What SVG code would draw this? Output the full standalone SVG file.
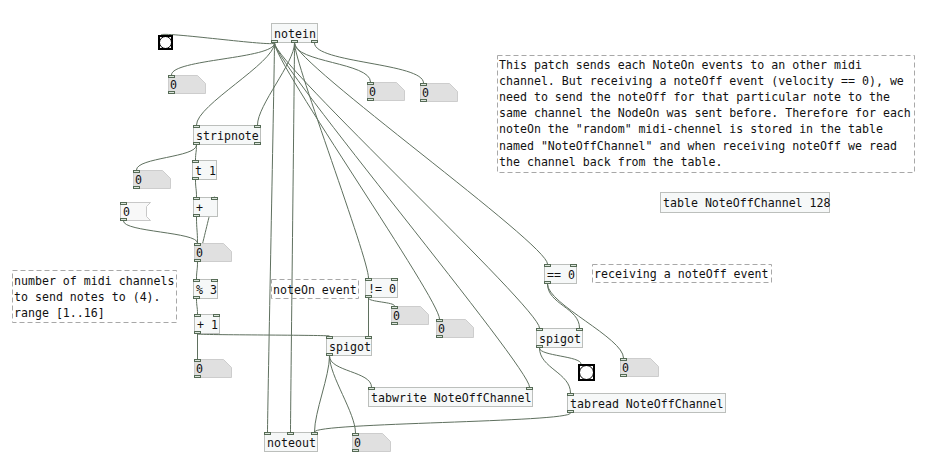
<svg xmlns="http://www.w3.org/2000/svg" width="925" height="467" viewBox="0 0 925 467">
<style>
text{font-family:"DejaVu Sans Mono","Liberation Mono",monospace;font-size:11.6px;fill:#111}
.o{fill:#f6f8f8;stroke:#bcbfbc;stroke-width:1}
.io{fill:#dde6dd;stroke:#566b56;stroke-width:1}
.n{fill:#e0e0e0;stroke:#cdcdcd;stroke-width:1}
.m{fill:#f8f8f8;stroke:#c8c8c8;stroke-width:1}
.c{fill:none;stroke:#a8a8a8;stroke-width:1;stroke-dasharray:5 3}
.w path{fill:none;stroke:#5f705f;stroke-width:1}
.b{fill:#fff;stroke:#000;stroke-width:2}
.bc{fill:none;stroke:#000;stroke-width:1}
</style>
<rect width="925" height="467" fill="#fff"/>
<g id="connectors" class="w">
<path d="M274.5,43 C274.5,47 161,31 161,35"/>
<path d="M274.5,43 C274.5,59 171.5,59 171.5,75"/>
<path d="M274.5,43 C274.5,63 196.5,105 196.5,125"/>
<path d="M294.5,43 C294.5,63 257.5,105 257.5,125"/>
<path d="M294.5,43 C294.5,62.5 370.5,62.5 370.5,82"/>
<path d="M314.5,43 C314.5,63 423.5,63 423.5,83"/>
<path d="M274.5,43 C274.5,63 267.5,412 267.5,432"/>
<path d="M294.5,43 C294.5,63 290.5,412 290.5,432"/>
<path d="M294.5,43 C294.5,63 368.5,258 368.5,278"/>
<path d="M274.5,43 C274.5,63 439.5,299 439.5,319"/>
<path d="M274.5,43 C274.5,63 529.5,367 529.5,387"/>
<path d="M274.5,43 C274.5,63 539.5,308 539.5,328"/>
<path d="M294.5,43 C294.5,63 547.5,244 547.5,264"/>
<path d="M196.5,145 C196.5,157.5 136.5,157.5 136.5,170"/>
<path d="M196.5,145 C196.5,152.5 195.5,152.5 195.5,160"/>
<path d="M195.5,180 C195.5,188.5 196.5,188.5 196.5,197"/>
<path d="M196.5,217 C196.5,230 197.5,230 197.5,243"/>
<path d="M197.5,262 C197.5,267 214.5,192 214.5,197"/>
<path d="M123.5,221 C123.5,232 197.5,232 197.5,243"/>
<path d="M197.5,262 C197.5,270.5 196.5,270.5 196.5,279"/>
<path d="M196.5,299 C196.5,306.5 197.5,306.5 197.5,314"/>
<path d="M197.5,334 L197.5,359"/>
<path d="M197.5,334 C197.5,335 329.5,335 329.5,336"/>
<path d="M368.5,298 L368.5,336"/>
<path d="M368.5,298 C368.5,302 394.5,302 394.5,306"/>
<path d="M329.5,356 C329.5,376 314.5,412 314.5,432"/>
<path d="M329.5,356 C329.5,371.5 371.5,371.5 371.5,387"/>
<path d="M329.5,356 C329.5,376 355.5,413 355.5,433"/>
<path d="M547.5,284 C547.5,304 579.5,308 579.5,328"/>
<path d="M547.5,284 C547.5,304 623.5,338 623.5,358"/>
<path d="M539.5,348 C539.5,368 570.5,373 570.5,393"/>
<path d="M539.5,348 C539.5,356 581,356 581,364"/>
<path d="M570.5,413 C570.5,422.5 314.5,422.5 314.5,432"/>
</g>
<g id="notein"><rect class="o" x="271.5" y="23.5" width="46" height="19"/><text x="274" y="37.5">notein</text><rect class="io" x="271.5" y="40.5" width="6" height="2"/><rect class="io" x="291.5" y="40.5" width="6" height="2"/><rect class="io" x="311.5" y="40.5" width="6" height="2"/></g>
<g id="bng1"><rect class="b" x="159" y="36" width="13" height="13"/><circle class="bc" cx="165.5" cy="42.5" r="6"/></g>
<g id="num1"><path class="n" d="M168.5,75.5 H197.5 L205.5,83.5 V93.5 H168.5 Z"/><text x="170" y="89">0</text><rect class="io" x="168.5" y="75.5" width="6" height="2"/><rect class="io" x="168.5" y="91.5" width="6" height="2"/></g>
<g id="num2"><path class="n" d="M367.5,82.5 H396.5 L404.5,90.5 V100.5 H367.5 Z"/><text x="369" y="96">0</text><rect class="io" x="367.5" y="82.5" width="6" height="2"/><rect class="io" x="367.5" y="98.5" width="6" height="2"/></g>
<g id="num3"><path class="n" d="M420.5,83.5 H449.5 L457.5,91.5 V101.5 H420.5 Z"/><text x="422" y="97">0</text><rect class="io" x="420.5" y="83.5" width="6" height="2"/><rect class="io" x="420.5" y="99.5" width="6" height="2"/></g>
<g id="stripnote"><rect class="o" x="193.5" y="125.5" width="67" height="19"/><text x="196" y="139.5">stripnote</text><rect class="io" x="193.5" y="125.5" width="6" height="2"/><rect class="io" x="254.5" y="125.5" width="6" height="2"/><rect class="io" x="193.5" y="142.5" width="6" height="2"/><rect class="io" x="254.5" y="142.5" width="6" height="2"/></g>
<g id="num4"><path class="n" d="M133.5,170.5 H162.5 L170.5,178.5 V188.5 H133.5 Z"/><text x="135" y="184">0</text><rect class="io" x="133.5" y="170.5" width="6" height="2"/><rect class="io" x="133.5" y="186.5" width="6" height="2"/></g>
<g id="t1"><rect class="o" x="192.5" y="160.5" width="24" height="19"/><text x="195" y="174.5">t 1</text><rect class="io" x="192.5" y="160.5" width="6" height="2"/><rect class="io" x="192.5" y="177.5" width="6" height="2"/></g>
<g id="plus"><rect class="o" x="193.5" y="197.5" width="24" height="19"/><text x="196" y="211.5">+</text><rect class="io" x="193.5" y="197.5" width="6" height="2"/><rect class="io" x="211.5" y="197.5" width="6" height="2"/><rect class="io" x="193.5" y="214.5" width="6" height="2"/></g>
<g id="msg0"><path class="m" d="M120.5,202.5 H150.5 L146.5,206.5 V216.5 L150.5,220.5 H120.5 Z"/><text x="123" y="216">0</text><rect class="io" x="120.5" y="202.5" width="6" height="2"/><rect class="io" x="120.5" y="218.5" width="6" height="2"/></g>
<g id="num5"><path class="n" d="M194.5,243.5 H223.5 L231.5,251.5 V261.5 H194.5 Z"/><text x="196" y="257">0</text><rect class="io" x="194.5" y="243.5" width="6" height="2"/><rect class="io" x="194.5" y="259.5" width="6" height="2"/></g>
<g id="mod3"><rect class="o" x="193.5" y="279.5" width="24" height="19"/><text x="196" y="293.5">% 3</text><rect class="io" x="193.5" y="279.5" width="6" height="2"/><rect class="io" x="211.5" y="279.5" width="6" height="2"/><rect class="io" x="193.5" y="296.5" width="6" height="2"/></g>
<g id="plus1"><rect class="o" x="194.5" y="314.5" width="25" height="19"/><text x="197" y="328.5">+ 1</text><rect class="io" x="194.5" y="314.5" width="6" height="2"/><rect class="io" x="213.5" y="314.5" width="6" height="2"/><rect class="io" x="194.5" y="331.5" width="6" height="2"/></g>
<g id="num6"><path class="n" d="M194.5,359.5 H223.5 L231.5,367.5 V377.5 H194.5 Z"/><text x="196" y="373">0</text><rect class="io" x="194.5" y="359.5" width="6" height="2"/><rect class="io" x="194.5" y="375.5" width="6" height="2"/></g>
<g id="comment-channels"><rect class="c" x="12.5" y="270.5" width="164" height="52"/><text x="14" y="285">number of midi channels</text><text x="14" y="301">to send notes to (4).</text><text x="14" y="317">range [1..16]</text></g>
<g id="comment-noteon"><rect class="c" x="271.5" y="279.5" width="87" height="19"/><text x="273" y="293.5">noteOn event</text></g>
<g id="neq0"><rect class="o" x="365.5" y="278.5" width="32" height="19"/><text x="368" y="292.5">!= 0</text><rect class="io" x="365.5" y="278.5" width="6" height="2"/><rect class="io" x="391.5" y="278.5" width="6" height="2"/><rect class="io" x="365.5" y="295.5" width="6" height="2"/></g>
<g id="num7"><path class="n" d="M391.5,306.5 H420.5 L428.5,314.5 V324.5 H391.5 Z"/><text x="393" y="320">0</text><rect class="io" x="391.5" y="306.5" width="6" height="2"/><rect class="io" x="391.5" y="322.5" width="6" height="2"/></g>
<g id="num8"><path class="n" d="M436.5,319.5 H465.5 L473.5,327.5 V337.5 H436.5 Z"/><text x="438" y="333">0</text><rect class="io" x="436.5" y="319.5" width="6" height="2"/><rect class="io" x="436.5" y="335.5" width="6" height="2"/></g>
<g id="spigot1"><rect class="o" x="326.5" y="336.5" width="45" height="19"/><text x="329" y="350.5">spigot</text><rect class="io" x="326.5" y="336.5" width="6" height="2"/><rect class="io" x="365.5" y="336.5" width="6" height="2"/><rect class="io" x="326.5" y="353.5" width="6" height="2"/></g>
<g id="tabwrite"><rect class="o" x="368.5" y="387.5" width="164" height="19"/><text x="371" y="401.5">tabwrite NoteOffChannel</text><rect class="io" x="368.5" y="387.5" width="6" height="2"/><rect class="io" x="526.5" y="387.5" width="6" height="2"/></g>
<g id="noteout"><rect class="o" x="264.5" y="432.5" width="53" height="19"/><text x="267" y="446.5">noteout</text><rect class="io" x="264.5" y="432.5" width="6" height="2"/><rect class="io" x="287.5" y="432.5" width="6" height="2"/><rect class="io" x="311.5" y="432.5" width="6" height="2"/></g>
<g id="num9"><path class="n" d="M352.5,433.5 H382.5 L390.5,441.5 V451.5 H352.5 Z"/><text x="354" y="447">0</text><rect class="io" x="352.5" y="433.5" width="6" height="2"/><rect class="io" x="352.5" y="449.5" width="6" height="2"/></g>
<g id="comment-main"><rect class="c" x="497.5" y="55.5" width="417" height="117"/>
<text x="499" y="68.5">This patch sends each NoteOn events to an other midi</text>
<text x="499" y="84.7">channel. But receiving a noteOff event (velocity == 0), we</text>
<text x="499" y="100.9">need to send the noteOff for that particular note to the</text>
<text x="499" y="117.1">same channel the NodeOn was sent before. Therefore for each</text>
<text x="499" y="133.3">noteOn the "random" midi-chennel is stored in the table</text>
<text x="499" y="149.5">named "NoteOffChannel" and when receiving noteOff we read</text>
<text x="499" y="165.7">the channel back from the table.</text></g>
<g id="table"><rect class="o" x="660.5" y="192.5" width="169" height="20"/><text x="663" y="207">table NoteOffChannel 128</text></g>
<g id="eq0"><rect class="o" x="544.5" y="264.5" width="32" height="19"/><text x="547" y="278.5">== 0</text><rect class="io" x="544.5" y="264.5" width="6" height="2"/><rect class="io" x="570.5" y="264.5" width="6" height="2"/><rect class="io" x="544.5" y="281.5" width="6" height="2"/></g>
<g id="comment-noteoff"><rect class="c" x="592.5" y="264.5" width="179" height="18"/><text x="594" y="278">receiving a noteOff event</text></g>
<g id="spigot2"><rect class="o" x="536.5" y="328.5" width="46" height="19"/><text x="539" y="342.5">spigot</text><rect class="io" x="536.5" y="328.5" width="6" height="2"/><rect class="io" x="576.5" y="328.5" width="6" height="2"/><rect class="io" x="536.5" y="345.5" width="6" height="2"/></g>
<g id="bng2"><rect class="b" x="579" y="365" width="15" height="15"/><circle class="bc" cx="586.5" cy="372.5" r="7"/></g>
<g id="num10"><path class="n" d="M620.5,358.5 H650.5 L658.5,366.5 V376.5 H620.5 Z"/><text x="622" y="372">0</text><rect class="io" x="620.5" y="358.5" width="6" height="2"/><rect class="io" x="620.5" y="374.5" width="6" height="2"/></g>
<g id="tabread"><rect class="o" x="567.5" y="393.5" width="158" height="19"/><text x="570" y="407.5">tabread NoteOffChannel</text><rect class="io" x="567.5" y="393.5" width="6" height="2"/><rect class="io" x="567.5" y="410.5" width="6" height="2"/></g>
</svg>
